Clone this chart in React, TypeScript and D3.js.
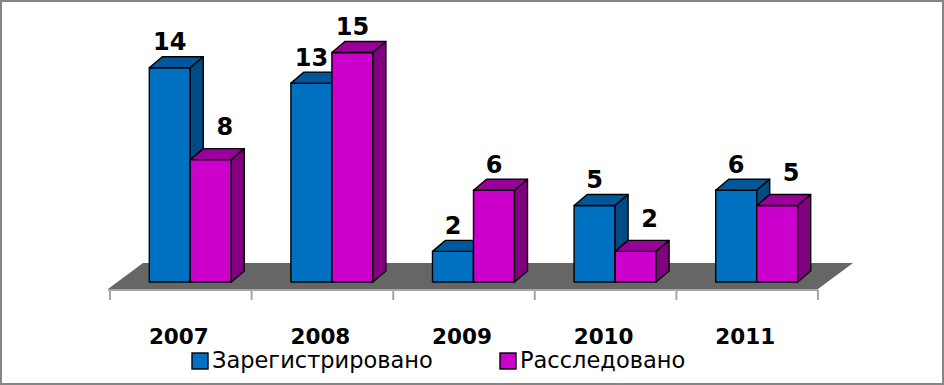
import React from 'react';
import * as d3 from 'd3';

const years = ['2007', '2008', '2009', '2010', '2011'];
const registered = [14, 13, 2, 5, 6];
const investigated = [8, 15, 6, 2, 5];
const seriesNames = ['Зарегистрировано', 'Расследовано'];

const W = 944;
const H = 385;

// 3D look
const base = 282; // front bottom of bars
const depth = { dx: 13, dy: -11 };
const floor = { frontY: 289, backY: 263, x0: 108, x1: 818, skew: 35 };

const colors = [
  { front: '#0070C0', top: '#00579A', side: '#004B86' },
  { front: '#CC00CC', top: '#990099', side: '#800080' },
];

const x = d3.scaleBand<string>().domain(years).range([110, 818]);
const y = d3.scaleLinear().domain([0, 15]).range([base, base - 15 * 15.3]);
const barW = 41;
const shift = 9.5; // bars sit a little back on the floor

const numFont = '"DejaVu Sans", sans-serif';

function Bar({ x0, v, c }: { x0: number; v: number; c: typeof colors[0] }) {
  const t = y(v);
  const { dx, dy } = depth;
  const pts = (a: number[][]) => a.map(p => p.join(',')).join(' ');
  return (
    <g stroke="#000" strokeWidth={1.4} strokeLinejoin="round">
      <rect x={x0} y={t} width={barW} height={base - t} fill={c.front} />
      <polygon
        points={pts([[x0, t], [x0 + dx, t + dy], [x0 + barW + dx, t + dy], [x0 + barW, t]])}
        fill={c.top}
      />
      <polygon
        points={pts([[x0 + barW, t], [x0 + barW + dx, t + dy], [x0 + barW + dx, base + dy], [x0 + barW, base]])}
        fill={c.side}
      />
    </g>
  );
}

export default function App() {
  const floorPts = [
    [floor.x0, floor.frontY],
    [floor.x0 + floor.skew, floor.backY],
    [floor.x1 + floor.skew, floor.backY],
    [floor.x1, floor.frontY],
  ].map(p => p.join(',')).join(' ');

  const ticks = [...years.map(d => x(d)!), x.range()[1]];

  return (
    <svg
      width={W}
      height={H}
      style={{ position: 'fixed', left: 0, top: 0, background: '#fff' }}
    >
      <rect x={1} y={1} width={W - 2} height={H - 2} fill="#fff" stroke="#868686" strokeWidth={2} />

      {/* floor */}
      <polygon points={floorPts} fill="#666666" />
      <line x1={floor.x0} x2={floor.x1} y1={290} y2={290} stroke="#A6A6A6" strokeWidth={2} />
      {ticks.map((t, i) => (
        <line key={i} x1={t} x2={t} y1={290} y2={300} stroke="#A6A6A6" strokeWidth={2} />
      ))}

      {/* bars */}
      {years.map((yr, i) => {
        const cx = x(yr)! + x.bandwidth() / 2 + shift;
        const bx = cx - barW;
        const px = cx;
        const pinkLower = investigated[i] < registered[i];
        return (
          <g key={yr}>
            <Bar x0={bx} v={registered[i]} c={colors[0]} />
            <Bar x0={px} v={investigated[i]} c={colors[1]} />
            <text
              x={bx + barW / 2}
              y={y(registered[i]) - 17.5}
              textAnchor="middle"
              fontFamily={numFont}
              fontWeight="bold"
              fontSize={24}
            >
              {registered[i]}
            </text>
            <text
              x={px + barW / 2 + (pinkLower ? 14 : 0)}
              y={y(investigated[i]) - 17.5 - (pinkLower ? 7 : 0)}
              textAnchor="middle"
              fontFamily={numFont}
              fontWeight="bold"
              fontSize={24}
            >
              {investigated[i]}
            </text>
          </g>
        );
      })}

      {/* category labels */}
      {years.map(yr => (
        <text
          key={yr}
          x={x(yr)! + x.bandwidth() / 2 - 2}
          y={344}
          textAnchor="middle"
          fontFamily={numFont}
          fontWeight="bold"
          fontSize={21.5}
        >
          {yr}
        </text>
      ))}

      {/* legend */}
      {seriesNames.map((name, i) => {
        const lx = [192, 500][i];
        return (
          <g key={name}>
            <rect x={lx} y={353} width={16} height={16} fill={colors[i].front} stroke="#000" strokeWidth={1.4} />
            <text x={lx + 20} y={368} fontFamily={numFont} fontSize={22.5}>
              {name}
            </text>
          </g>
        );
      })}
    </svg>
  );
}
